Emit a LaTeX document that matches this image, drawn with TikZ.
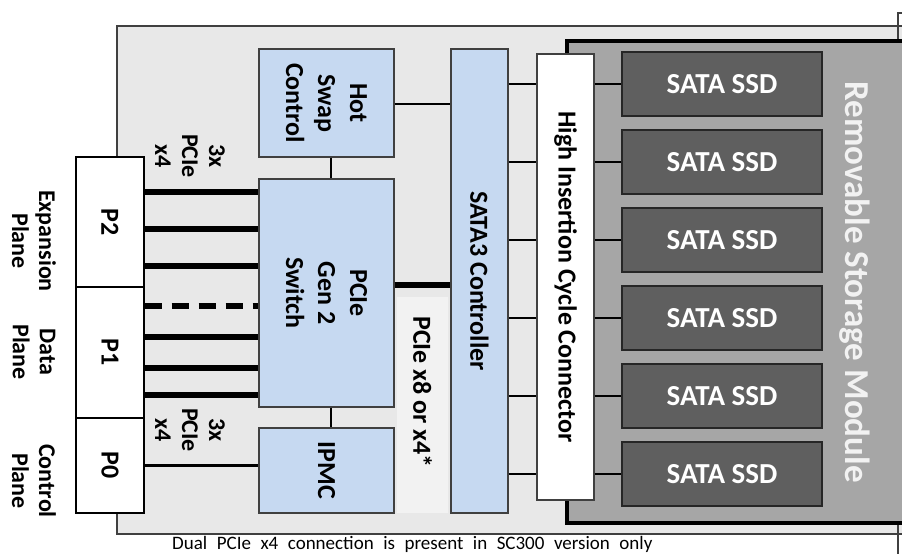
\documentclass[tikz,border=0pt]{standalone}
\usepackage{fontspec}
\setmainfont{Carlito}
\usepackage{tikz}
\usetikzlibrary{shapes.geometric, arrows}
\definecolor{chipblue}{HTML}{C6D9F1}
\definecolor{boardgray}{HTML}{E8E8E8}
\definecolor{modulegray}{HTML}{A6A6A6}
\definecolor{ssdgray}{HTML}{5F5F5F}
\definecolor{edgegray}{HTML}{404040}
\definecolor{notegray}{HTML}{F2F2F2}
\tikzstyle{chip} = [rectangle, draw=edgegray, fill=chipblue, line width=1.3pt, inner sep=0pt]
\tikzstyle{plug} = [rectangle, draw=black, fill=white, line width=1.3pt, inner sep=0pt, minimum width=68pt]
\tikzstyle{sideways} = [rotate=-90, align=center, inner sep=0pt, font=\bfseries\fontsize{26}{32}\selectfont]
\tikzstyle{sidenote} = [rotate=-90, align=center, inner sep=0pt, font=\bfseries\fontsize{24}{27}\selectfont]
\tikzstyle{ssd} = [rectangle, draw=black!85, fill=ssdgray, line width=1.3pt, minimum width=200pt, minimum height=64pt, text=white, font=\bfseries\fontsize{29}{34}\selectfont]
\tikzstyle{bus} = [line width=6.5pt]
\tikzstyle{wire} = [line width=2.5pt]

\begin{document}
\begin{tikzpicture}[x=1pt, y=-1pt, node distance=78pt]
  \useasboundingbox (0,0) rectangle (902,554);
  % carrier board and storage module
  \draw[line width=1.3pt, draw=edgegray, fill=boardgray] (117,26) rectangle (915,534);
  \draw[line width=1.3pt, draw=edgegray] (898,560) -- (898,13) -- (915,13);
  \draw[line width=4pt, fill=modulegray] (915,41) -- (567,41) -- (567,523) -- (915,523);
  \node[rotate=-90, text=notegray, font=\bfseries\fontsize{35}{40}\selectfont] (rsm) at (855,282) {Removable Storage Module};

  % backplane connectors
  \node(p2)[plug, minimum height=130pt, label={[sideways]center:P2}] at (110,222) {};
  \node(p1)[plug, minimum height=131pt, label={[sideways]center:P1}] at (110,352.5) {};
  \node(p0)[plug, minimum height=95pt, label={[sideways]center:P0}] at (110,465.5) {};
  \node(exp)[sidenote] at (34,241) {Expansion\\Plane};
  \node(dat)[sidenote] at (34,352) {Data\\Plane};
  \node(ctl)[sidenote] at (34,481) {Control\\Plane};

  % chips
  \node(hsc)[chip, minimum width=135pt, minimum height=108pt, label={[sideways]center:Hot\\Swap\\Control}] at (326.5,103) {};
  \node(sw)[chip, minimum width=135pt, minimum height=228pt, label={[sideways]center:PCIe\\Gen 2\\Switch}] at (326.5,293) {};
  \node(ipmc)[chip, minimum width=135pt, minimum height=85pt, label={[sideways]center:IPMC}] at (326.5,470.5) {};
  \node(x8)[rectangle, fill=notegray, minimum width=51pt, minimum height=216pt] at (422.5,405) {};
  \node(x8txt)[sideways] at (422.5,392) {PCIe x8 or x4*};
  \node(sata)[chip, minimum width=57pt, minimum height=464pt, label={[sideways]center:SATA3 Controller}] at (479.5,281) {};
  \node(hic)[rectangle, draw=edgegray, fill=white, line width=1.3pt, minimum width=57pt, minimum height=446pt, label={[sideways]center:High Insertion Cycle Connector}] at (565.5,277) {};

  % drives
  \node(ssd1)[ssd] at (722,84) {SATA SSD};
  \node(ssd2)[ssd, below of=ssd1] {SATA SSD};
  \node(ssd3)[ssd, below of=ssd2] {SATA SSD};
  \node(ssd4)[ssd, below of=ssd3] {SATA SSD};
  \node(ssd5)[ssd, below of=ssd4] {SATA SSD};
  \node(ssd6)[ssd, below of=ssd5] {SATA SSD};

  % PCIe lanes
  \node(lanes2)[sidenote] at (190,156) {3x\\PCIe\\x4};
  \node(lanes1)[sidenote] at (190,430) {3x\\PCIe\\x4};
  \draw[bus] (p2.east |- 0,192) -- (sw.west |- 0,192);
  \draw[bus] (p2.east |- 0,229) -- (sw.west |- 0,229);
  \draw[bus] (p2.east |- 0,266) -- (sw.west |- 0,266);
  \draw[bus, dash pattern=on 17pt off 10pt] (p1.east |- 0,306) -- (sw.west |- 0,306);
  \draw[bus] (p1.east |- 0,337) -- (sw.west |- 0,337);
  \draw[bus] (p1.east |- 0,368) -- (sw.west |- 0,368);
  \draw[bus] (p1.east |- 0,395) -- (sw.west |- 0,395);
  \draw[bus] (sw.east |- 0,285) -- (sata.west |- 0,285);

  % control and SATA links
  \draw[wire] (p0.east) -- (p0.east -| ipmc.west);
  \draw[wire] ([xshift=4.5pt]hsc.south) -- ([xshift=4.5pt]sw.north);
  \draw[wire] ([xshift=4.5pt]sw.south) -- ([xshift=4.5pt]ipmc.north);
  \draw[wire] (hsc.east |- 0,104) -- (sata.west |- 0,104);
  \draw[wire] (sata.east |- ssd1) -- (hic.west |- ssd1);
  \draw[wire] (sata.east |- ssd2) -- (hic.west |- ssd2);
  \draw[wire] (sata.east |- ssd3) -- (hic.west |- ssd3);
  \draw[wire] (sata.east |- ssd4) -- (hic.west |- ssd4);
  \draw[wire] (sata.east |- ssd5) -- (hic.west |- ssd5);
  \draw[wire] (sata.east |- ssd6) -- (hic.west |- ssd6);
  \draw[wire] (hic.east |- ssd1) -- (ssd1.west);
  \draw[wire] (hic.east |- ssd2) -- (ssd2.west);
  \draw[wire] (hic.east |- ssd3) -- (ssd3.west);
  \draw[wire] (hic.east |- ssd4) -- (ssd4.west);
  \draw[wire] (hic.east |- ssd5) -- (ssd5.west);
  \draw[wire] (hic.east |- ssd6) -- (ssd6.west);

  % footnote under the board
  \node(note)[anchor=base west, inner sep=0pt, font=\fontsize{19}{22}\selectfont] at (172,549) {\spaceskip=0.5em\relax Dual PCIe x4 connection is present in SC300 version only};
\end{tikzpicture}
\end{document}
